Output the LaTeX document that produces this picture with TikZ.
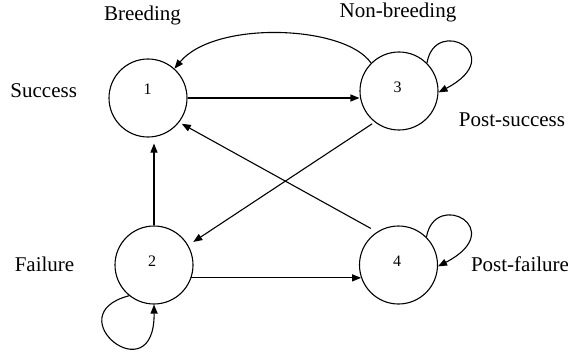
\documentclass[tikz,border=0pt]{standalone}
\usepackage{fontspec}
\setmainfont{Liberation Serif}
\usetikzlibrary{arrows.meta,calc}
\begin{document}
\begin{tikzpicture}[x=1pt,y=-1pt,
  statebox/.style={circle,draw,line width=1.1pt,minimum size=78pt,inner sep=0pt},
  numtxt/.style={anchor=base,font=\fontsize{16}{18}\selectfont,inner sep=0pt},
  lbl/.style={anchor=base,font=\fontsize{21}{24}\selectfont,inner sep=0pt},
  arr/.style={line width=1.1pt,-{Triangle[length=9pt,width=7pt]}}]
\useasboundingbox (0,0) rectangle (568,353);
\node[statebox] (n1) at (148,98) {};
\node[statebox] (n3) at (399,91) {};
\node[statebox] (n2) at (154,265) {};
\node[statebox] (n4) at (398.5,265) {};
\node[numtxt] (t1) at (147.5,95) {1};
\node[numtxt] (t3) at (397.5,92.5) {3};
\node[numtxt] (t2) at (152,266) {2};
\node[numtxt] (t4) at (397,266) {4};
\node[lbl] (lb) at (142.5,20.7) {Breeding};
\node[lbl] (lnb) at (398,17.3) {Non-breeding};
\node[lbl] (ls) at (43.7,97.3) {Success};
\node[lbl] (lps) at (512,126) {Post-success};
\node[lbl] (lf) at (44.5,271.7) {Failure};
\node[lbl] (lpf) at (520,271.7) {Post-failure};
% straight edges
\draw[arr] (n1.east) -- (n1.east -| n3.west);
\draw[arr] (n2.-19.5) -- (n4.199.5);
\draw[arr,shorten >=6pt] (n2.north) -- (n2.north |- n1.south);
\draw[arr,shorten <=7pt,shorten >=3pt] (n4.123) -- (n1.-38);
\draw[arr,shorten <=3pt,shorten >=6pt] (n3.232) -- (n2.30);
% curved 3 -> 1
\draw[arr] (n3.135) .. controls ($(n3)+(-54,-66)$) and ($(n1)+(67,-78)$) .. (n1.48);
% self loops
\draw[arr] (n3.45) .. controls ($(n3)+(36,-76)$) and ($(n3)+(111,-36)$) .. (n3.-2);
\draw[arr] (n4.45) .. controls ($(n4)+(36.5,-76)$) and ($(n4)+(111.5,-36)$) .. (n4.-2);
\draw[arr] (n2.231) .. controls ($(n2)+(-99,50)$) and ($(n2)+(1,130)$) .. (n2.south);
\end{tikzpicture}
\end{document}
